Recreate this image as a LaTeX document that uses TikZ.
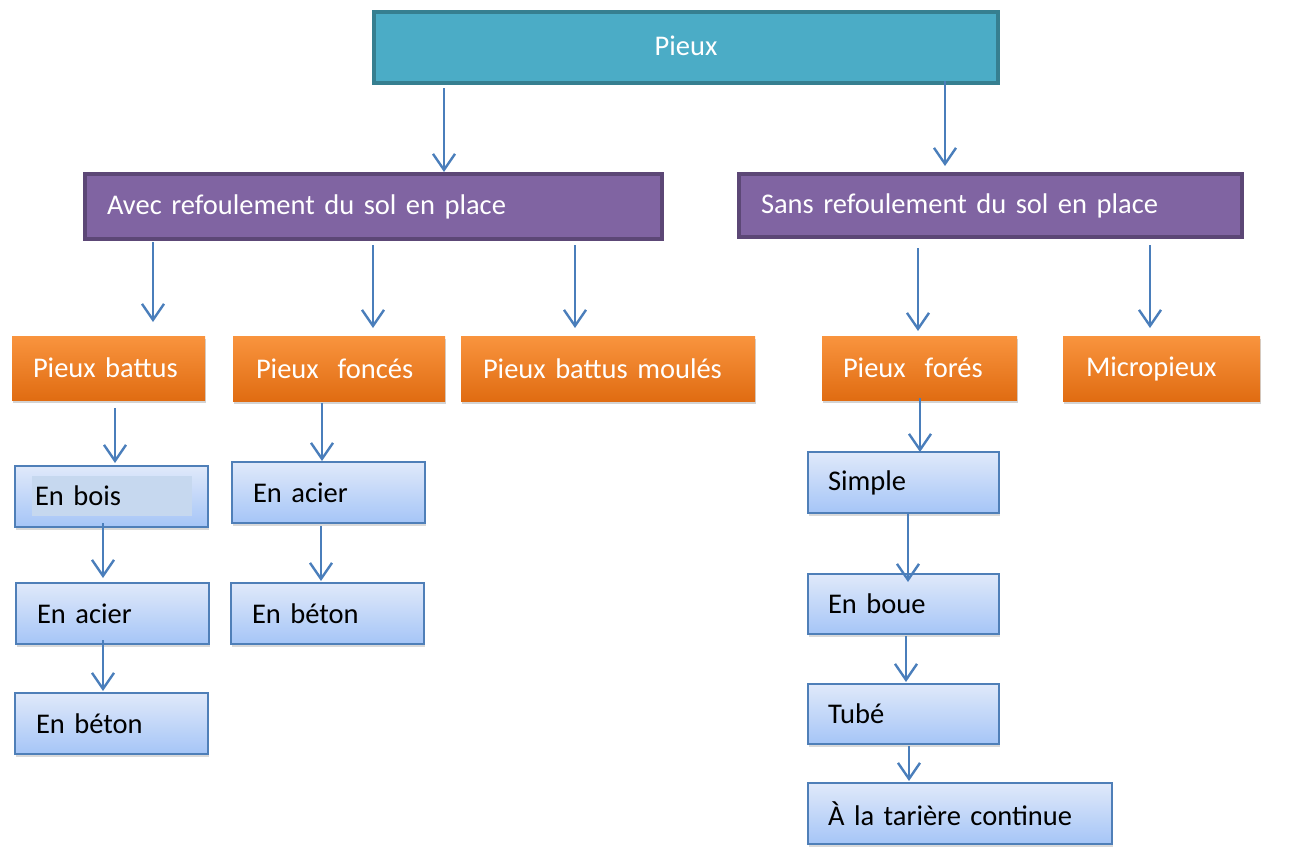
\documentclass[tikz,border=0pt]{standalone}
\usepackage{fontspec}
\setmainfont{Carlito}
\usetikzlibrary{arrows.meta,shadows}
\definecolor{tealfill}{HTML}{4BACC6}
\definecolor{tealdraw}{HTML}{367F90}
\definecolor{purfill}{HTML}{8064A2}
\definecolor{purdraw}{HTML}{5C4776}
\definecolor{orTop}{HTML}{F9943E}
\definecolor{orBot}{HTML}{E06C12}
\definecolor{blTop}{HTML}{E0E9FA}
\definecolor{blBot}{HTML}{A5C5F7}
\definecolor{bldraw}{HTML}{4F7FB8}
\definecolor{arrcol}{HTML}{4A7EBB}
\definecolor{hlfill}{HTML}{C6D8EF}
\tikzset{
  base/.style={rectangle, anchor=north west, inner ysep=0pt, inner xsep=22pt, outer sep=0pt,
     align=left, font=\fontsize{28.5}{34}\selectfont},
  tealbox/.style={base, fill=tealfill, draw=tealdraw, line width=4pt, text=white, align=center},
  purbox/.style={base, fill=purfill, draw=purdraw, line width=3.5pt, text=white},
  orbox/.style={base, top color=orTop, bottom color=orBot, text=white,
     drop shadow={shadow xshift=1pt, shadow yshift=-3pt, opacity=0.35, fill=gray}},
  blbox/.style={base, top color=blTop, bottom color=blBot, draw=bldraw, line width=2.2pt, text=black,
     drop shadow={shadow xshift=1pt, shadow yshift=-3pt, opacity=0.3, fill=gray}},
  arr/.style={draw=arrcol, line width=2.4pt, -{Straight Barb[length=16pt,width=22pt]}},
}
\begin{document}
\begin{tikzpicture}[x=1pt,y=-1pt]
\useasboundingbox (0,0) rectangle (1301,847);
% level 0
\node[tealbox, minimum width=624pt, minimum height=71pt, text width=580pt] (pieux) at (374,12) {Pieux\vphantom{y}\\[4pt]};
% level 1
\node[purbox, minimum width=577pt, minimum height=65pt, text width=533pt] (avec) at (85,174) {Avec refoulement du sol en place};
\node[purbox, minimum width=503pt, minimum height=63pt, text width=459pt] (sans) at (739,174) {Sans refoulement du sol en place};
% level 2
\node[orbox, minimum width=193pt, minimum height=64pt, text width=151pt, inner xsep=21pt] (battus) at (12,336) {Pieux battus};
\node[orbox, minimum width=212pt, minimum height=65pt, text width=166pt, inner xsep=23pt] (fonces) at (233,336) {Pieux\ \ foncés};
\node[orbox, minimum width=294pt, minimum height=65pt, text width=250pt] (moules) at (461,336) {Pieux battus moulés};
\node[orbox, minimum width=195pt, minimum height=64pt, text width=153pt, inner xsep=21pt] (fores) at (822,336) {Pieux\ \ forés};
\node[orbox, minimum width=197pt, minimum height=65pt, text width=151pt, inner xsep=23pt] (micro) at (1063,336) {Micropieux};
% level 3 left
\node[blbox, minimum width=193pt, minimum height=61pt, text width=151pt, inner xsep=21pt] (bois) at (15,466) {};
\node[rectangle, anchor=north west, fill=hlfill, minimum width=160pt, minimum height=40pt, text width=154pt,
      inner xsep=3pt, inner ysep=0pt, outer sep=0pt, align=left, font=\fontsize{28.5}{34}\selectfont] (boistxt) at (32,476) {En bois};
\node[blbox, minimum width=193pt, minimum height=61pt, text width=151pt, inner xsep=21pt] (acierA) at (16,583) {En acier};
\node[blbox, minimum width=193pt, minimum height=61pt, text width=151pt, inner xsep=21pt] (betonA) at (15,693) {En béton};
\node[blbox, minimum width=193pt, minimum height=61pt, text width=151pt, inner xsep=21pt] (acierB) at (232,462) {En acier};
\node[blbox, minimum width=193pt, minimum height=61pt, text width=151pt, inner xsep=21pt] (betonB) at (231,583) {En béton};
% level 3 right
\node[blbox, minimum width=191pt, minimum height=61pt, text width=151pt, inner xsep=20pt] (simple) at (808,452) {Simple};
\node[blbox, minimum width=191pt, minimum height=60pt, text width=151pt, inner xsep=20pt] (boue) at (808,574) {En boue};
\node[blbox, minimum width=191pt, minimum height=60pt, text width=151pt, inner xsep=20pt] (tube) at (808,684) {Tubé};
\node[blbox, minimum width=304pt, minimum height=61pt, text width=264pt, inner xsep=20pt] (tariere) at (808,783) {À la tarière continue};
% connectors (vertical: end point projected from start point)
\draw[arr] ([xshift=-242pt,yshift=-5pt]pieux.south) coordinate (s1) -- ([yshift=2pt]s1 |- avec.north);
\draw[arr] ([xshift=259pt,yshift=2pt]pieux.south) coordinate (s2) -- ([yshift=8pt]s2 |- sans.north);
\draw[arr] ([xshift=-220.5pt,yshift=-3pt]avec.south) coordinate (s3) -- ([yshift=14pt]s3 |- battus.north);
\draw[arr] ([xshift=-0.5pt,yshift=-6pt]avec.south) coordinate (s4) -- ([yshift=8pt]s4 |- fonces.north);
\draw[arr] ([xshift=201.5pt,yshift=-6pt]avec.south) coordinate (s5) -- ([yshift=8pt]s5 |- moules.north);
\draw[arr] ([xshift=-72.5pt,yshift=-11pt]sans.south) coordinate (s6) -- ([yshift=5pt]s6 |- fores.north);
\draw[arr] ([xshift=159.5pt,yshift=-8pt]sans.south) coordinate (s7) -- ([yshift=8pt]s7 |- micro.north);
\draw[arr] ([xshift=6.5pt,yshift=-8pt]battus.south) coordinate (s8) -- ([yshift=3pt]s8 |- bois.north);
\draw[arr] ([xshift=-8.5pt,yshift=4pt]bois.south) coordinate (s9) -- ([yshift=5pt]s9 |- acierA.north);
\draw[arr] ([xshift=-9.5pt,yshift=4pt]acierA.south) coordinate (s10) -- ([yshift=2pt]s10 |- betonA.north);
\draw[arr] ([xshift=-17pt,yshift=-2pt]fonces.south) coordinate (s11) -- ([yshift=1pt]s11 |- acierB.north);
\draw[arr] ([xshift=-7.5pt,yshift=-3pt]acierB.south) coordinate (s12) -- ([yshift=2pt]s12 |- betonB.north);
\draw[arr] ([xshift=0.5pt,yshift=2pt]fores.south) coordinate (s13) -- ([yshift=0pt]s13 |- simple.north);
\draw[arr] ([xshift=4.5pt]simple.south) coordinate (s14) -- ([yshift=-8pt]s14 |- boue.north);
\draw[arr] ([xshift=2.5pt,yshift=-2pt]boue.south) coordinate (s15) -- ([yshift=2pt]s15 |- tube.north);
\draw[arr] ([xshift=5.5pt,yshift=-2pt]tube.south) coordinate (s16) -- ([yshift=2pt]s16 |- tariere.north);
\end{tikzpicture}
\end{document}
